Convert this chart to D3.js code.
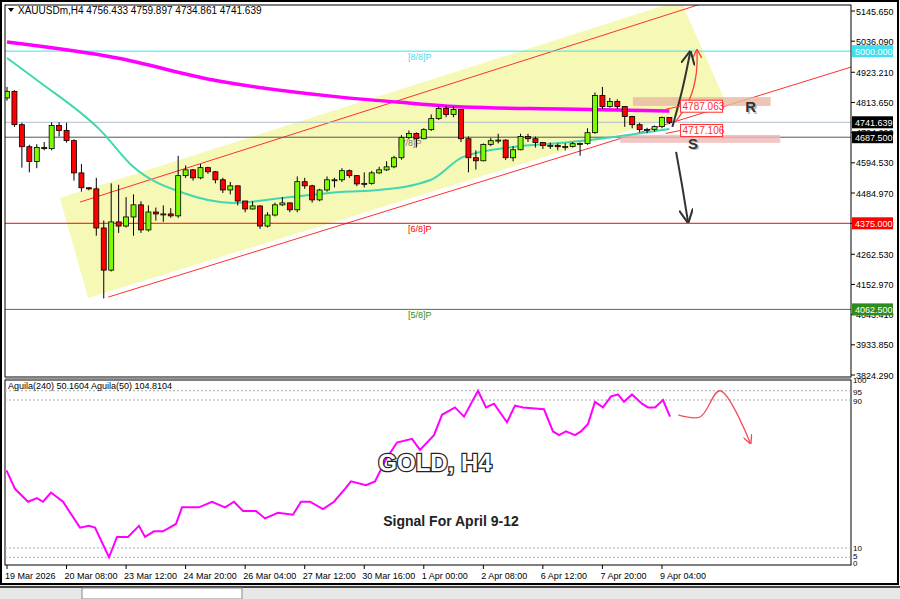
<!DOCTYPE html>
<html><head><meta charset="utf-8">
<script src="https://cdn.jsdelivr.net/npm/d3@7"></script>
<style>body{margin:0;background:#fff}svg{display:block}text{font-family:"Liberation Sans",Arial,sans-serif}</style>
</head><body><div id="chart"></div>
<script>
// candle data (H4), open = previous close
const firstOpen = 4830;
const closes = [4854,4733,4653,4599,4650,4646,4730,4712,4675,4558,
  4504,4500,4358,4205,4380,4365,4398,4442,4351,4416,
  4409,4409,4402,4548,4569,4540,4577,4562,4533,4496,
  4511,4456,4427,4438,4365,4405,4442,4449,4424,4526,
  4511,4460,4496,4533,4533,4566,4548,4518,4520,4558,
  4569,4580,4613,4686,4701,4682,4715,4755,4792,4770,
  4788,4682,4613,4602,4661,4675,4677,4613,4642,4690,
  4682,4668,4657,4658,4653,4654,4664,4665,4704,4839,
  4799,4817,4799,4763,4733,4715,4716,4726,4759,4741.639];
const highs = [4870,4858,4740,4660,4662,4670,4742,4742,4740,4680,
  4590,4506,4540,4385,4520,4515,4470,4480,4455,4440,
  4432,4440,4430,4620,4585,4572,4590,4580,4565,4540,
  4525,4512,4450,4455,4440,4415,4450,4470,4450,4545,
  4540,4515,4500,4545,4540,4575,4570,4550,4560,4565,
  4580,4600,4620,4695,4712,4705,4720,4770,4800,4800,
  4800,4790,4690,4640,4665,4685,4700,4680,4655,4700,
  4700,4690,4670,4668,4665,4666,4670,4668,4720,4850,
  4870,4830,4825,4800,4765,4740,4722,4730,4762,4760];
const lows = [4820,4725,4577,4560,4575,4640,4640,4690,4668,4530,
  4490,4495,4330,4102,4200,4340,4360,4330,4340,4345,
  4385,4380,4395,4395,4540,4530,4535,4555,4520,4485,
  4480,4440,4415,4425,4355,4360,4400,4438,4415,4415,
  4500,4450,4455,4490,4505,4525,4540,4510,4505,4515,
  4555,4565,4575,4606,4680,4650,4680,4710,4750,4760,
  4760,4670,4560,4570,4600,4655,4665,4605,4600,4640,
  4670,4650,4645,4645,4640,4640,4650,4620,4660,4700,
  4790,4795,4790,4725,4720,4705,4702,4708,4720,4735];

// moving averages sampled (bar index, price)
const ma240Idx = [0,14.8,27.7,44.8,52.4,61.3,74.7,89];
const ma240Val = [5033,4975,4895,4833,4815,4797,4790,4783];
const ma50Idx = [0,4,12.5,17,23.7,30.4,37,44.8,50,56.9,61.3,68,74.7,81.5,89];
const ma50Val = [4975,4895,4714,4579,4485,4449,4467,4489,4496,4532,4616,4652,4667,4688,4717];

// indicator Aguila(240), sampled (pixel column, value)
const aguilaX = [6.5,15,28,37,43,51,63,80,89,95,109,117,128,139,145,154,163,176,182,199,212,225,234,243,256,265,278,293,301,310,323,334,345,351,366,375,386,397,412,420,434,442,455,464,478,486,494,507,515,523,544,553,559,566,575,581,588,595,603,611,618,624,632,642,648,655,663,670];
const aguilaVal = [52,42,35,37,35,40,35,21,22,21,5,16,16,22,16,19,19,23,32,32,35,32,35,30,30,26,29,28,35,35,31,35,42,46,44,46,58,67,69,63,71,82,86,81,95,86,88,78,87,86,85,73,71,73,71,73,77,89,86,92,93,89,93,88,86,86,90,81];

const priceTicks = [5145.65,5036.09,4923.21,4813.65,4704.09,4594.53,4484.97,4375.0,4262.53,4152.97,4043.41,3933.85,3824.29];
const timeLabels = ["19 Mar 2026","20 Mar 08:00","23 Mar 12:00","24 Mar 20:00","26 Mar 04:00","27 Mar 12:00","30 Mar 16:00","1 Apr 00:00","2 Apr 08:00","6 Apr 12:00","7 Apr 20:00","9 Apr 04:00"];
const levels = [
  {v:5000, color:"#40e0f0", name:"[8/8]P"},
  {v:4375, color:"#ff0000", name:"[6/8]P"},
  {v:4062.5, color:"#2e8b1e", name:"[5/8]P"}
];
const channelUpper = [[9.8,4452],[94.5,5182]];
const channelLower = [[13.6,4107],[113.4,4942]];
const channelBox = [[7.1,4467],[90.5,5185],[96.5,4819],[10.9,4104]];
const zoneR = {x0:84.1,x1:102.6,p0:4801,p1:4833};
const zoneS = {x0:82.4,x1:103.9,p0:4667,p1:4696};
const signalCurve = [[90.2,82],[93.1,80.8],[95.8,95],[99.9,66.5]];

const W = 900, H = 599, L = 5, R = 851;
const AXF = 9;
const svg = d3.select("#chart").append("svg").attr("width", W).attr("height", H);
const x = d3.scaleLinear().domain([0,113.4]).range([7,R]);
const y = d3.scaleLinear().domain([3824.29,5145.65]).range([375,11]);
const yi = d3.scaleLinear().domain([0,100]).range([566.5,381.5]);

svg.append("rect").attr("width",W).attr("height",H).attr("fill","#fff");
svg.append("defs").append("clipPath").attr("id","mainClip")
  .append("rect").attr("x",L).attr("y",5).attr("width",R-L).attr("height",372);

const main = svg.append("g").attr("clip-path","url(#mainClip)");

// channel
main.append("path").datum(channelBox)
  .attr("d", d3.line().x(d=>x(d[0])).y(d=>y(d[1])).curve(d3.curveLinearClosed))
  .attr("fill","#f4f7a8").attr("opacity",0.85);
[channelUpper, channelLower].forEach(seg => {
  main.append("line").attr("x1",x(seg[0][0])).attr("y1",y(seg[0][1]))
    .attr("x2",x(seg[1][0])).attr("y2",y(seg[1][1]))
    .attr("stroke","#ff3030").attr("stroke-width",1);
});

// levels
levels.forEach(l => {
  main.append("line").attr("x1",L).attr("x2",R).attr("y1",y(l.v)).attr("y2",y(l.v))
    .attr("stroke",l.color).attr("stroke-width",1);
  main.append("text").attr("x",408).attr("y",y(l.v)+9).attr("font-size",9)
    .attr("fill",l.color).text(l.name);
});
main.append("line").attr("x1",L).attr("x2",R).attr("y1",y(4741.639)).attr("y2",y(4741.639))
  .attr("stroke","#b0bccc").attr("stroke-width",1);
main.append("line").attr("x1",L).attr("x2",R).attr("y1",y(4687.5)).attr("y2",y(4687.5))
  .attr("stroke","#555").attr("stroke-width",1);
main.append("text").attr("x",398).attr("y",y(4687.5)+9).attr("font-size",9).attr("fill","#777").text("[7/8]P");

// zones
[zoneR, zoneS].forEach((z,i) => {
  main.append("rect").attr("x",x(z.x0)).attr("width",x(z.x1)-x(z.x0))
    .attr("y",y(z.p1)).attr("height",y(z.p0)-y(z.p1))
    .attr("fill", i===0 ? "#e8b8a0" : "#f0b8b8").attr("opacity",0.8);
});

// moving averages
const maLine = d3.line().x(d=>x(d[0])).y(d=>y(d[1])).curve(d3.curveMonotoneX);
main.append("path").datum(ma50Idx.map((d,i)=>[d,ma50Val[i]])).attr("d",maLine)
  .attr("fill","none").attr("stroke","#40d8b0").attr("stroke-width",2);
main.append("path").datum(ma240Idx.map((d,i)=>[d,ma240Val[i]])).attr("d",maLine)
  .attr("fill","none").attr("stroke","#ff00ff").attr("stroke-width",3.5);

// candles
const bars = closes.map((c,i)=>({i, o: i===0?firstOpen:closes[i-1], c, h:highs[i], l:lows[i]}));
const cg = main.selectAll(".candle").data(bars).join("g");
cg.append("line").attr("x1",d=>x(d.i)).attr("x2",d=>x(d.i))
  .attr("y1",d=>y(d.h)).attr("y2",d=>y(d.l)).attr("stroke","#000");
cg.append("rect").attr("x",d=>x(d.i)-2.5).attr("width",5)
  .attr("y",d=>y(Math.max(d.o,d.c))).attr("height",d=>Math.max(1,Math.abs(y(d.o)-y(d.c))))
  .attr("fill",d=>d.c>=d.o?"#7cfc00":"#ff0000").attr("stroke","#000").attr("stroke-width",0.8);

// arrows
const defs = svg.select("defs");
function marker(id,color){
  defs.append("marker").attr("id",id).attr("viewBox","0 0 10 10").attr("refX",9).attr("refY",5)
    .attr("markerWidth",7).attr("markerHeight",7).attr("orient","auto")
    .append("path").attr("d","M0,0L10,5L0,10").attr("fill","none").attr("stroke",color).attr("stroke-width",1.5);
}
marker("arB","#333"); marker("arR","#ff4040"); marker("arP","#f05060");
const curve = d3.line().x(d=>x(d[0])).y(d=>y(d[1])).curve(d3.curveBasis);
main.append("path").datum([[89.4,4725],[90.8,4860],[91.8,4997]]).attr("d",curve)
  .attr("fill","none").attr("stroke","#333").attr("stroke-width",2).attr("marker-end","url(#arB)");
main.append("path").datum([[89.8,4743],[91.9,4820],[92.8,4930],[92.7,5004]]).attr("d",curve)
  .attr("fill","none").attr("stroke","#ff4040").attr("stroke-width",1.3).attr("marker-end","url(#arR)");
main.append("path").datum([[89.9,4634],[90.8,4500],[91.5,4380]]).attr("d",curve)
  .attr("fill","none").attr("stroke","#333").attr("stroke-width",2).attr("marker-end","url(#arB)");

// price labels on the zones
[[4800,"4787.063"],[4712,"4717.106"]].forEach(d=>{
  const yy = y(d[0]);
  main.append("line").attr("x1",x(88.5)).attr("y1",yy+3).attr("x2",x(90.5)).attr("y2",yy)
    .attr("stroke","#ff3030");
  main.append("rect").attr("x",x(90.5)).attr("y",yy-6).attr("width",42).attr("height",12)
    .attr("fill","#fff").attr("stroke","#ff3030");
  main.append("text").attr("x",x(90.5)+2).attr("y",yy+4).attr("font-size",10).attr("fill","#ff3030").text(d[1]);
});
function bigLetter(t, xx, yy){
  main.append("text").attr("x",xx+1.5).attr("y",yy+1.5).attr("font-size",15).attr("font-weight","bold").attr("fill","#bbb").text(t);
  main.append("text").attr("x",xx).attr("y",yy).attr("font-size",15).attr("font-weight","bold").attr("fill","#333").text(t);
}
bigLetter("R", x(99.2), y(4800)+6);
bigLetter("S", x(91.5), y(4667)+6);

// panel frames
svg.append("rect").attr("x",L).attr("y",5).attr("width",R-L).attr("height",372)
  .attr("fill","none").attr("stroke","#000");
svg.append("rect").attr("x",L).attr("y",380).attr("width",R-L).attr("height",185)
  .attr("fill","none").attr("stroke","#000");
svg.append("rect").attr("x",1).attr("y",1).attr("width",W-3).attr("height",583)
  .attr("fill","none").attr("stroke","#000").attr("stroke-width",2);
svg.append("line").attr("x1",L).attr("x2",R).attr("y1",378.5).attr("y2",378.5).attr("stroke","#999");

// header
svg.append("path").attr("d","M8,8L14,8L11,12Z").attr("fill","#000");
svg.append("text").attr("x",18).attr("y",14).attr("font-size",10)
  .text("XAUUSDm,H4  4756.433 4759.897 4734.861 4741.639");

// right price axis
const ax = svg.append("g");
priceTicks.forEach(p=>{
  ax.append("line").attr("x1",R).attr("x2",R+4).attr("y1",y(p)).attr("y2",y(p)).attr("stroke","#000");
  ax.append("text").attr("x",R+5).attr("y",y(p)+3.5).attr("font-size",AXF).text(p.toFixed(3));
});
[[4741.639,"#000"],[4687.5,"#000"]].concat(levels.map(l=>[l.v,l.color])).forEach(d=>{
  ax.append("rect").attr("x",R+1).attr("y",y(d[0])-6).attr("width",41).attr("height",12).attr("fill",d[1]);
  ax.append("text").attr("x",R+4).attr("y",y(d[0])+3.5).attr("font-size",AXF).attr("fill","#fff").text(d[0].toFixed(3));
});

// indicator panel
[95,90,10,5].forEach(v=>{
  svg.append("line").attr("x1",L).attr("x2",R).attr("y1",yi(v)).attr("y2",yi(v))
    .attr("stroke","#aaa").attr("stroke-dasharray","2,2");
});
[[100,1],[95,4],[90,4],[10,3],[5,2],[0,-1]].forEach(d=>{
  svg.append("text").attr("x",R+2).attr("y",yi(d[0])+d[1]).attr("font-size",8).text(d[0]);
});
svg.append("text").attr("x",8).attr("y",389).attr("font-size",9)
  .text("Aguila(240) 50.1604  Aguila(50) 104.8104");
svg.append("path").datum(aguilaX.map((d,i)=>[d,aguilaVal[i]]))
  .attr("d", d3.line().x(d=>d[0]).y(d=>yi(d[1])))
  .attr("fill","none").attr("stroke","#ff00ff").attr("stroke-width",2);
svg.append("path").datum(signalCurve)
  .attr("d", d3.line().x(d=>x(d[0])).y(d=>yi(d[1])).curve(d3.curveCatmullRom))
  .attr("fill","none").attr("stroke","#f05060").attr("stroke-width",1.3).attr("marker-end","url(#arP)");

svg.append("text").attr("x",435).attr("y",471).attr("text-anchor","middle").attr("font-size",24)
  .attr("font-weight","bold").attr("fill","#fff").attr("stroke","#222").attr("stroke-width",2.5)
  .attr("paint-order","stroke").attr("font-family","Liberation Sans Narrow, Liberation Sans").text("GOLD, H4");
svg.append("text").attr("x",451).attr("y",526).attr("text-anchor","middle").attr("font-size",14)
  .attr("font-weight","bold").attr("fill","#222").attr("font-family","Liberation Sans Narrow, Liberation Sans")
  .text("Signal For April 9-12");

// time axis
timeLabels.forEach((t,i)=>{
  const xx = x(i*8);
  svg.append("line").attr("x1",xx).attr("x2",xx).attr("y1",565).attr("y2",569).attr("stroke","#000");
  svg.append("text").attr("x",xx-2).attr("y",579).attr("font-size",9)
    .attr("font-family","Liberation Sans Narrow, Liberation Sans").text(t);
});
svg.append("rect").attr("x",0).attr("y",585).attr("width",W).attr("height",14).attr("fill","#e8e8e8");
svg.append("line").attr("x1",0).attr("x2",W).attr("y1",587).attr("y2",587).attr("stroke","#444").attr("stroke-width",2);
svg.append("rect").attr("x",82).attr("y",588).attr("width",160).attr("height",11).attr("fill","#fff").attr("stroke","#888");
</script></body></html>
